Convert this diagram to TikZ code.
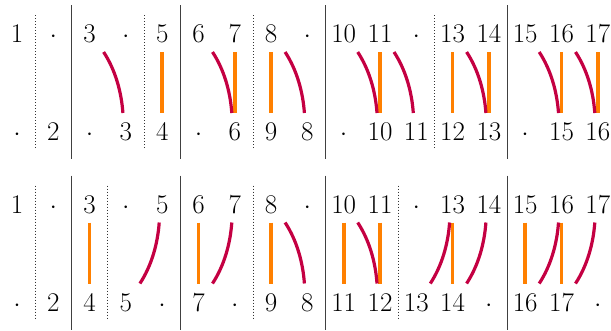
\documentclass[tikz,border=0pt]{standalone}
\usepackage{fontspec}
\usetikzlibrary{calc}
\definecolor{linkcrimson}{RGB}{196,0,66}
\definecolor{linkorange}{RGB}{255,128,0}
\tikzset{
  lab/.style={anchor=base,inner sep=0pt,font=\fontsize{27}{32}\selectfont},
  orangelink/.style={draw=linkorange,line width=3.6pt},
  crimsonlink/.style={draw=linkcrimson,line width=3.2pt},
  solidsep/.style={draw=black!75,line width=1pt},
  dottedsep/.style={draw=black!80,line width=0.7pt,dash pattern=on 0.7pt off 2.3pt}
}
\begin{document}
\begin{tikzpicture}[x=1pt,y=-1pt]
\useasboundingbox (0,0) rectangle (611,330);
% column coordinates
\foreach \r/\yo in {1/0,2/170.5}{
  \foreach \i in {1,...,17}{
    \coordinate (u\r-\i) at ({17+(\i-1)*36.3},{52+\yo});
    \coordinate (l\r-\i) at ({17+(\i-1)*36.3},{113+\yo});
  }
}
% labels row 1
\foreach \i/\t in {1/1,2/{$\cdot$},3/3,4/{$\cdot$},5/5,6/6,7/7,8/8,9/{$\cdot$},10/10,11/11,12/{$\cdot$},13/13,14/14,15/15,16/16,17/17}{
  \node[lab] (a1-\i) at ({17+(\i-1)*36.3},42.5) {\t};
  \node[lab] (a2-\i) at ({17+(\i-1)*36.3},213) {\t};
}
\foreach \i/\t in {1/{$\cdot$},2/2,3/{$\cdot$},4/3,5/4,6/{$\cdot$},7/6,8/9,9/8,10/{$\cdot$},11/10,12/11,13/12,14/13,15/{$\cdot$},16/15,17/16}{
  \node[lab] (b1-\i) at ({17+(\i-1)*36.3},140.5) {\t};
}
\foreach \i/\t in {1/{$\cdot$},2/2,3/4,4/5,5/{$\cdot$},6/7,7/{$\cdot$},8/9,9/8,10/11,11/12,12/13,13/14,14/{$\cdot$},15/16,16/17,17/{$\cdot$}}{
  \node[lab] (b2-\i) at ({17+(\i-1)*36.3},311) {\t};
}
% separators row 1
\foreach \i in {1,4,7,12}{
  \draw[dottedsep] ({17+(\i-0.5)*36.3},15) -- ({17+(\i-0.5)*36.3},148);
}
\foreach \i in {2,5,9,14}{
  \draw[solidsep] ({17+(\i-0.5)*36.3},5) -- ({17+(\i-0.5)*36.3},159);
}
% separators row 2
\foreach \i in {1,3,7,11}{
  \draw[dottedsep] ({17+(\i-0.5)*36.3},185.5) -- ({17+(\i-0.5)*36.3},318.5);
}
\foreach \i in {2,5,9,14}{
  \draw[solidsep] ({17+(\i-0.5)*36.3},175.5) -- ({17+(\i-0.5)*36.3},330);
}
% row 1 links
\foreach \i in {5,7,8,11,13,14,16,17}{
  \draw[orangelink] (u1-\i) -- (l1-\i);
}
\foreach \i [evaluate=\i as \j using int(\i+1)] in {3,6,8,10,11,13,15,16}{
  \draw[crimsonlink] ($(u1-\i)+(14,0)$) .. controls +(11.7,17.9) and +(-1.5,-21.3) .. ($(l1-\j)+(-3,0)$);
}
% row 2 links
\foreach \i in {3,6,8,10,11,13,15,16}{
  \draw[orangelink] (u2-\i) -- (l2-\i);
}
\foreach \i [evaluate=\i as \j using int(\i+1)] in {8,10}{
  \draw[crimsonlink] ($(u2-\i)+(14,0)$) .. controls +(11.7,17.9) and +(-1.5,-21.3) .. ($(l2-\j)+(-3,0)$);
}
\foreach \i [evaluate=\i as \j using int(\i-1)] in {5,7,13,14,16,17}{
  \draw[crimsonlink] ($(l2-\j)+(14,0)$) .. controls +(11.7,-17.9) and +(-1.5,21.3) .. ($(u2-\i)+(-3,0)$);
}
\end{tikzpicture}
\end{document}
